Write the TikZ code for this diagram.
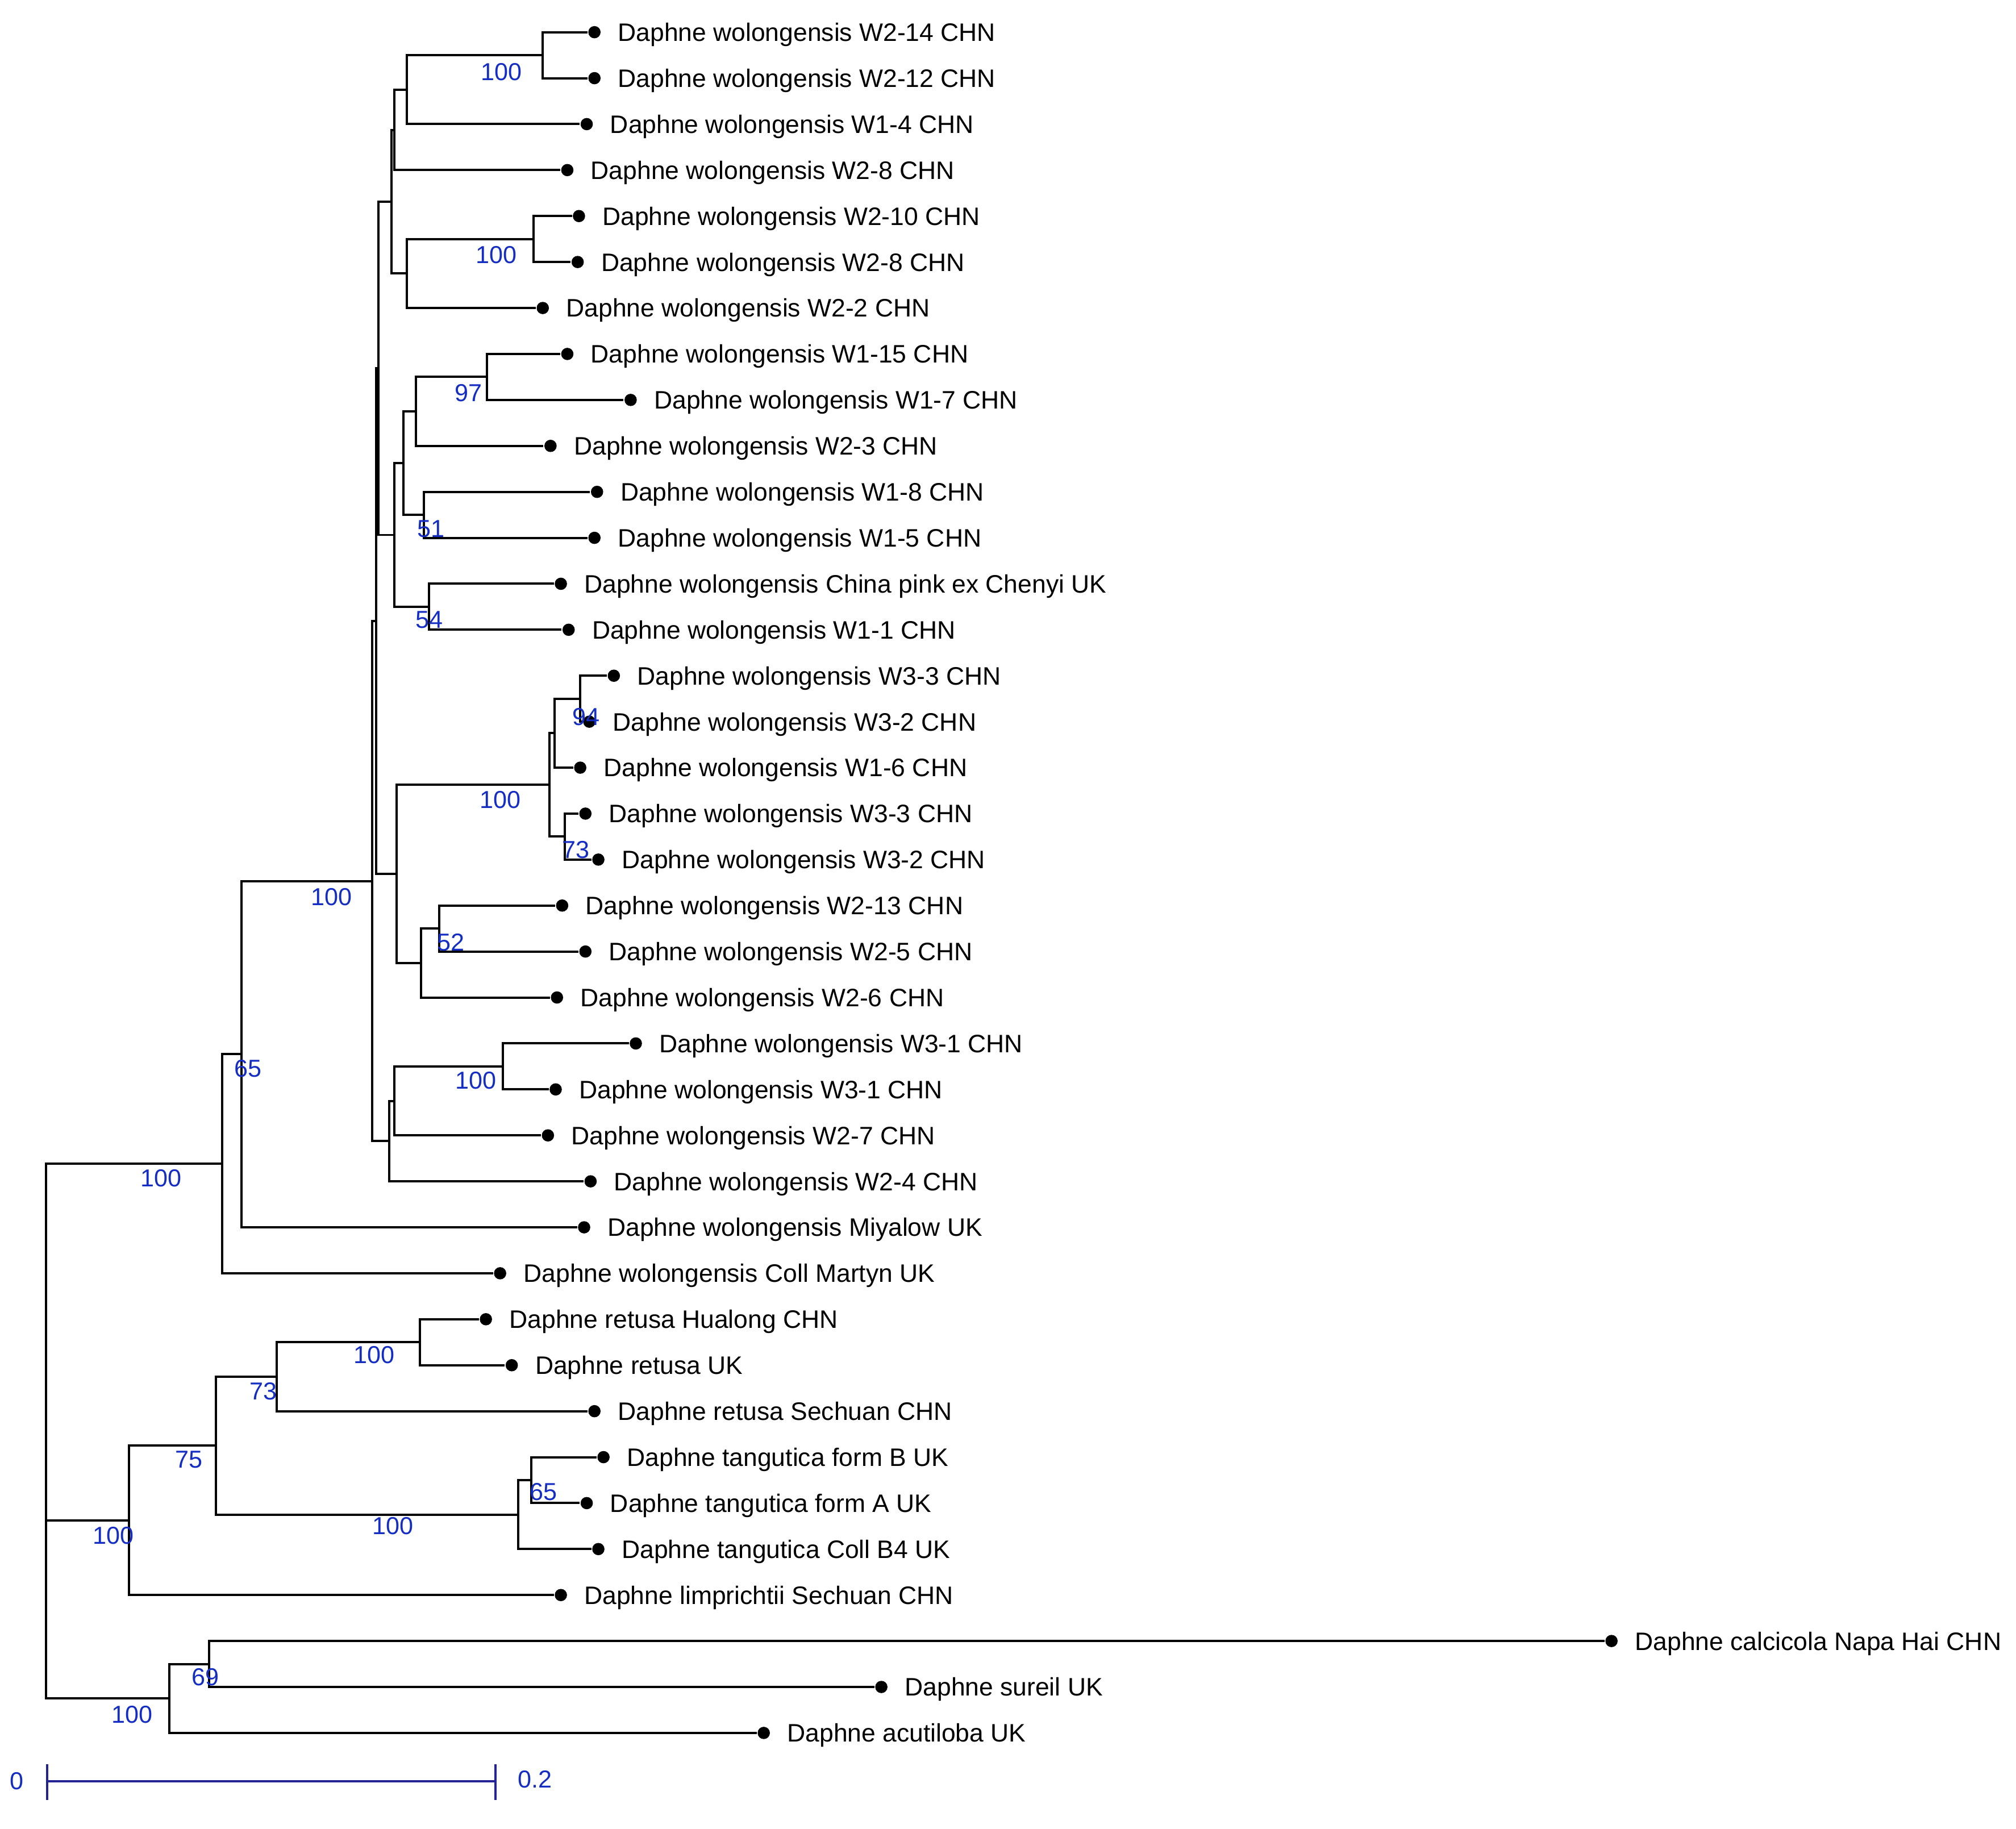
\documentclass[tikz,border=0pt]{standalone}
\usepackage{fontspec}
\setmainfont{Liberation Sans}
\usetikzlibrary{calc}
\definecolor{supblue}{RGB}{20,45,195}
\definecolor{barblue}{RGB}{35,35,150}
\begin{document}
\begin{tikzpicture}[x=0.1mm, y=-0.1mm,
  branch/.style={line width=0.5pt, black},
  leafdot/.style={circle, fill=black, inner sep=0pt, minimum size=0.95mm},
  lbl/.style={anchor=base west, inner sep=0pt, font=\fontsize{5.56pt}{6.5pt}\selectfont},
  sup/.style={inner sep=0pt, text=supblue, font=\fontsize{5.4pt}{6.5pt}\selectfont},
  scalebar/.style={line width=0.45pt, barblue}]
\useasboundingbox (0,0) rectangle (1560,1415);

% leaves
\foreach \i/\x/\t in {
 1/460/Daphne wolongensis W2-14 CHN,
 2/460/Daphne wolongensis W2-12 CHN,
 3/454/Daphne wolongensis W1-4 CHN,
 4/439/Daphne wolongensis W2-8 CHN,
 5/448/Daphne wolongensis W2-10 CHN,
 6/447/Daphne wolongensis W2-8 CHN,
 7/420/Daphne wolongensis W2-2 CHN,
 8/439/Daphne wolongensis W1-15 CHN,
 9/488/Daphne wolongensis W1-7 CHN,
 10/426/Daphne wolongensis W2-3 CHN,
 11/462/Daphne wolongensis W1-8 CHN,
 12/460/Daphne wolongensis W1-5 CHN,
 13/434/Daphne wolongensis China pink ex Chenyi UK,
 14/440/Daphne wolongensis W1-1 CHN,
 15/475/Daphne wolongensis W3-3 CHN,
 16/456/Daphne wolongensis W3-2 CHN,
 17/449/Daphne wolongensis W1-6 CHN,
 18/453/Daphne wolongensis W3-3 CHN,
 19/463/Daphne wolongensis W3-2 CHN,
 20/435/Daphne wolongensis W2-13 CHN,
 21/453/Daphne wolongensis W2-5 CHN,
 22/431/Daphne wolongensis W2-6 CHN,
 23/492/Daphne wolongensis W3-1 CHN,
 24/430/Daphne wolongensis W3-1 CHN,
 25/424/Daphne wolongensis W2-7 CHN,
 26/457/Daphne wolongensis W2-4 CHN,
 27/452/Daphne wolongensis Miyalow UK,
 28/387/Daphne wolongensis Coll Martyn UK,
 29/376/Daphne retusa Hualong CHN,
 30/396/Daphne retusa UK,
 31/460/Daphne retusa Sechuan CHN,
 32/467/Daphne tangutica form B UK,
 33/454/Daphne tangutica form A UK,
 34/463/Daphne tangutica Coll B4 UK,
 35/434/Daphne limprichtii Sechuan CHN,
 36/1247/Daphne calcicola Napa Hai CHN,
 37/682/Daphne sureil UK,
 38/591/Daphne acutiloba UK}
{
  \node[leafdot] (l\i) at (\x, {24.9+35.57*(\i-1)}) {};
  \node[lbl] (t\i) at ($(l\i)+(17.5,7)$) {\t};
}

% internal nodes: x position, placed midway between their two outer children
\foreach \N/\X/\A/\B in {
 n1/420/l1/l2, n2/315/n1/l3, n3/305/n2/l4, n4/413/l5/l6, n5/315/n4/l7,
 n6/303/n3/n5, n7/377/l8/l9, n8/322/n7/l10, n9/328/l11/l12, n10/312/n8/n9,
 n11/332/l13/l14, n12/305/n10/n11, n13/293/n6/n12, n14/449/l15/l16,
 n15/429/n14/l17, n16/437/l18/l19, n17/425/n15/n16, n18/340/l20/l21,
 n19/326/n18/l22, n20/307/n17/n19, n21/389/l23/l24, n22/305/n21/l25,
 n23/301/n22/l26, n24/291/n13/n20, n25/288/n24/n23, n26/187/n25/l27,
 n27/172/n26/l28, n28/325/l29/l30, n29/214/n28/l31, n30/411/l32/l33,
 n31/401/n30/l34, n32/167/n29/n31, n33/100/n32/l35, n34/162/l36/l37,
 n35/131/n34/l38, root/35.5/n27/n35}
{ \path let \p1=($(\A)!0.5!(\B)$) in coordinate (\N) at (\X*0.1mm,\y1); }

% branches
\foreach \p/\c in {
 n1/l1, n1/l2, n2/n1, n2/l3, n3/n2, n3/l4, n4/l5, n4/l6, n5/n4, n5/l7,
 n6/n3, n6/n5, n7/l8, n7/l9, n8/n7, n8/l10, n9/l11, n9/l12, n10/n8, n10/n9,
 n11/l13, n11/l14, n12/n10, n12/n11, n13/n6, n13/n12, n14/l15, n14/l16,
 n15/n14, n15/l17, n16/l18, n16/l19, n17/n15, n17/n16, n18/l20, n18/l21,
 n19/n18, n19/l22, n20/n17, n20/n19, n21/l23, n21/l24, n22/n21, n22/l25,
 n23/n22, n23/l26, n24/n13, n24/n20, n25/n24, n25/n23, n26/n25, n26/l27,
 n27/n26, n27/l28, n28/l29, n28/l30, n29/n28, n29/l31, n30/l32, n30/l33,
 n31/n30, n31/l34, n32/n29, n32/n31, n33/n32, n33/l35, n34/l36, n34/l37,
 n35/n34, n35/l38, root/n27, root/n33, root/n35}
{ \draw[branch] (\p) |- (\c); }

% support values
\node[sup] (s1)  at (388,55.7)    {100};
\node[sup] (s4)  at (384,197.3)   {100};
\node[sup] (s7)  at (362.5,304.1) {97};
\node[sup] (s9)  at (333.5,409.4) {51};
\node[sup] (s11) at (332,479.5)   {54};
\node[sup] (s14) at (453.6,554.5) {94};
\node[sup] (s17) at (387,619.1)   {100};
\node[sup] (s16) at (445.8,657.8) {73};
\node[sup] (s18) at (348.8,729.4) {52};
\node[sup] (s21) at (368.4,836.2) {100};
\node[sup] (s25) at (256.6,694.3) {100};
\node[sup] (s26) at (191.8,826.7) {65};
\node[sup] (s27) at (124.5,911.9) {100};
\node[sup] (s28) at (289.4,1048.3){100};
\node[sup] (s29) at (203.6,1076.5){73};
\node[sup] (s32) at (146.4,1129.6){75};
\node[sup] (s30) at (420.6,1154.6){65};
\node[sup] (s31) at (303.9,1181)  {100};
\node[sup] (s33) at (87.5,1188.1) {100};
\node[sup] (s34) at (159,1297.7)  {69};
\node[sup] (s35) at (102.2,1327)  {100};

% scale bar
\coordinate (b0) at (36.4,1378.5);
\coordinate (b1) at (383.3,1378.5);
\draw[scalebar] (b0) -- (b1);
\draw[scalebar] (36.4,1365) -- (36.4,1393);
\draw[scalebar] (383.3,1365) -- (383.3,1393);
\node[sup] (z0) at (12.9,1378.4) {0};
\node[sup] (z2) at (413.8,1377) {0.2};
\end{tikzpicture}
\end{document}
